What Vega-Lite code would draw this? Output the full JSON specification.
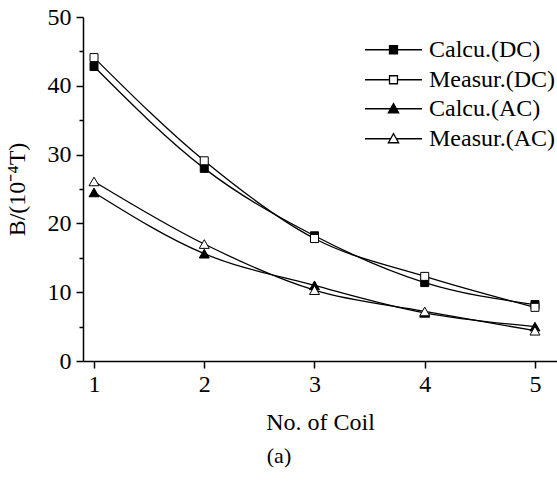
{
  "$schema": "https://vega.github.io/schema/vega-lite/v6.json",
  "width": 474,
  "height": 344,
  "autosize": {"type": "none"},
  "padding": {"left": 83, "top": 17, "right": 0, "bottom": 120},
  "background": "white",
  "config": {
    "font": "Liberation Serif",
    "view": {"stroke": null},
    "axis": {
      "domainColor": "black", "domainWidth": 1.5,
      "tickColor": "black", "tickWidth": 1.5,
      "labelColor": "black", "labelFont": "Liberation Serif", "labelFontSize": 24,
      "titleFont": "Liberation Serif", "titleFontSize": 24, "titleFontWeight": "normal", "titleColor": "black",
      "grid": false
    },
    "legend": {
      "orient": "none", "title": null, "padding": 0,
      "symbolSize": 3249, "symbolStrokeColor": "black", "symbolStrokeWidth": 1.3,
      "labelFont": "Liberation Serif", "labelFontSize": 24, "labelColor": "black", "labelOffset": 6,
      "clipHeight": 29.5, "rowPadding": 0
    }
  },
  "title": {"text": "(a)", "orient": "bottom", "anchor": "middle", "dx": -41, "offset": 12, "font": "Liberation Serif", "fontSize": 22, "fontWeight": "normal", "color": "black"},
  "data": {
    "values": [
      {"series": "Calcu.(DC)", "coil": 1, "B": 42.8},
      {"series": "Calcu.(DC)", "coil": 2, "B": 28.0},
      {"series": "Calcu.(DC)", "coil": 3, "B": 18.2},
      {"series": "Calcu.(DC)", "coil": 4, "B": 11.4},
      {"series": "Calcu.(DC)", "coil": 5, "B": 8.2},
      {"series": "Measur.(DC)", "coil": 1, "B": 44.1},
      {"series": "Measur.(DC)", "coil": 2, "B": 29.1},
      {"series": "Measur.(DC)", "coil": 3, "B": 17.8},
      {"series": "Measur.(DC)", "coil": 4, "B": 12.3},
      {"series": "Measur.(DC)", "coil": 5, "B": 7.8},
      {"series": "Calcu.(AC)", "coil": 1, "B": 24.5},
      {"series": "Calcu.(AC)", "coil": 2, "B": 15.6},
      {"series": "Calcu.(AC)", "coil": 3, "B": 11.0},
      {"series": "Calcu.(AC)", "coil": 4, "B": 7.0},
      {"series": "Calcu.(AC)", "coil": 5, "B": 5.0},
      {"series": "Measur.(AC)", "coil": 1, "B": 26.1},
      {"series": "Measur.(AC)", "coil": 2, "B": 17.0},
      {"series": "Measur.(AC)", "coil": 3, "B": 10.3},
      {"series": "Measur.(AC)", "coil": 4, "B": 7.2},
      {"series": "Measur.(AC)", "coil": 5, "B": 4.4}
    ]
  },
  "encoding": {
    "x": {"field": "coil", "type": "quantitative",
      "scale": {"domain": [0.9, 5.2], "nice": false, "zero": false},
      "axis": {"values": [1, 1.5, 2, 2.5, 3, 3.5, 4, 4.5, 5],
        "format": "d",
        "tickSize": {"condition": {"test": "datum.value % 1 == 0", "value": 7}, "value": 4},
        "labelExpr": "datum.value % 1 == 0 ? datum.label : ''",
        "labelPadding": 4, "title": "No. of Coil", "titlePadding": 14}},
    "y": {"field": "B", "type": "quantitative",
      "scale": {"domain": [0, 50], "nice": false},
      "axis": {"values": [0, 5, 10, 15, 20, 25, 30, 35, 40, 45, 50],
        "format": "d",
        "tickSize": {"condition": {"test": "datum.value % 10 == 0", "value": 7}, "value": 4},
        "labelExpr": "datum.value % 10 == 0 ? datum.label : ''",
        "labelPadding": 5, "title": "B/(10⁻⁴T)", "titlePadding": 18}}
  },
  "layer": [
    {
      "mark": {"type": "line", "interpolate": "monotone", "color": "black", "strokeWidth": 1.3},
      "encoding": {
        "detail": {"field": "series", "type": "nominal"}
      }
    },
    {
      "transform": [{"filter": {"field": "series", "oneOf": ["Calcu.(DC)", "Measur.(DC)"]}}],
      "mark": {"type": "point", "shape": "square", "size": 64, "filled": true, "stroke": "black", "strokeWidth": 1, "opacity": 1},
      "encoding": {
        "fill": {"field": "series", "type": "nominal",
          "scale": {"domain": ["Calcu.(DC)", "Measur.(DC)"], "range": ["black", "white"]},
          "legend": {"legendX": 281, "legendY": 18,
            "symbolType": "M-1,0L-0.14,0M0.14,0L1,0M-0.14,-0.14L0.14,-0.14L0.14,0.14L-0.14,0.14Z"}}
      }
    },
    {
      "transform": [{"filter": {"field": "series", "oneOf": ["Calcu.(AC)", "Measur.(AC)"]}}],
      "mark": {"type": "point", "shape": "triangle-up", "size": 100, "filled": true, "stroke": "black", "strokeWidth": 1, "opacity": 1},
      "encoding": {
        "fill": {"field": "series", "type": "nominal",
          "scale": {"domain": ["Calcu.(AC)", "Measur.(AC)"], "range": ["black", "white"]},
          "legend": {"legendX": 281, "legendY": 77,
            "symbolType": "M-1,0L-0.1,0M0.1,0L1,0M0,-0.18L0.18,0.14L-0.18,0.14Z"}}
      }
    }
  ],
  "resolve": {"scale": {"fill": "independent"}, "legend": {"fill": "independent"}}
}
